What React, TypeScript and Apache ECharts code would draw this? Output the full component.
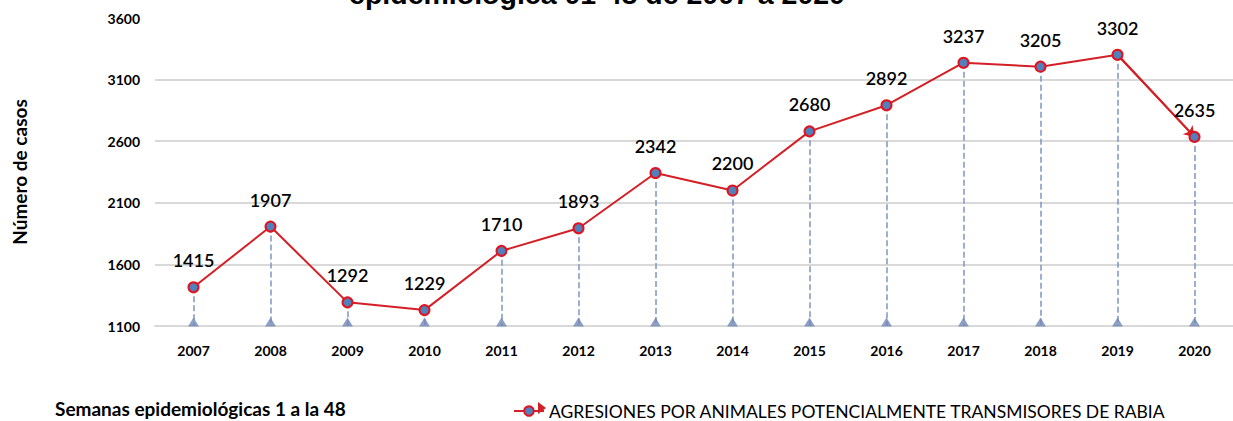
import React, { useEffect, useRef } from "react";
import * as echarts from "echarts";

const years = ["2007","2008","2009","2010","2011","2012","2013","2014","2015","2016","2017","2018","2019","2020"];
const cases = [1415, 1907, 1292, 1229, 1710, 1893, 2342, 2200, 2680, 2892, 3237, 3205, 3302, 2635];
const yTicks = [1100, 1600, 2100, 2600, 3100, 3600];
const seriesName = "AGRESIONES POR ANIMALES POTENCIALMENTE TRANSMISORES DE RABIA";
const titleText = "epidemiológica 01-48 de 2007 a 2020";
const footerText = "Semanas epidemiológicas 1 a la 48";
const yName = "Número de casos";

const FONT = "Lato, 'Open Sans', sans-serif";

export default function App() {
  const ref = useRef<HTMLDivElement>(null);
  useEffect(() => {
    document.body.style.margin = "0";
    const chart = echarts.init(ref.current!, null, { renderer: "svg" });
    const yMin = yTicks[0];
    const yMax = yTicks[yTicks.length - 1];
    const dropLines = cases.map((v, i) => [
      { coord: [i, v] },
      { coord: [i, yMin] },
    ]);
    chart.setOption({
      animation: false,
      backgroundColor: "#ffffff",
      grid: { left: 155, top: 18, height: 308, width: 1081 },
      xAxis: {
        type: "category",
        data: years,
        boundaryGap: true,
        axisLine: { show: true, lineStyle: { color: "#d9d9d9", width: 2 } },
        axisTick: { show: false },
        axisLabel: { color: "#000", fontWeight: "bold", fontSize: 14, fontFamily: FONT, margin: 17 },
      },
      yAxis: {
        type: "value",
        min: yMin,
        max: yMax,
        interval: 500,
        name: yName,
        nameLocation: "middle",
        nameRotate: 90,
        nameGap: 126,
        nameTextStyle: { color: "#000", fontWeight: "bold", fontSize: 19, fontFamily: FONT },
        axisLine: { show: false },
        axisTick: { show: false, customValues: yTicks },
        axisLabel: {
          color: "#000",
          fontWeight: "bold",
          fontSize: 14,
          fontFamily: FONT,
          margin: 15,
          customValues: yTicks,
          formatter: (v: number) => String(v),
        },
        splitLine: {
          show: true,
          lineStyle: { color: ["#d9d9d9", "#d9d9d9", "#d9d9d9", "#d9d9d9", "#d9d9d9", "rgba(0,0,0,0)"], width: 2 },
        },
      },
      legend: {
        left: 508,
        top: 397,
        itemWidth: 30,
        itemHeight: 12,
        itemGap: 10,
        data: [seriesName],
        textStyle: { color: "#000", fontSize: 17.5, fontFamily: FONT },
      },
      series: [
        {
          type: "scatter",
          data: years.map(() => yMin),
          symbol: "triangle",
          symbolSize: [11, 9],
          symbolOffset: [0, -4],
          itemStyle: { color: "#7088b4" },
          clip: false,
          silent: true,
          z: 1,
        },
        {
          name: seriesName,
          type: "line",
          data: cases,
          symbol: "circle",
          symbolSize: 10,
          itemStyle: { color: "#4f81bd", borderColor: "#e3121c", borderWidth: 2 },
          lineStyle: { color: "#d41f26", width: 2 },
          z: 3,
          label: {
            show: true,
            position: "top",
            distance: 12,
            color: "#000",
            fontSize: 18,
            fontWeight: 600,
            fontFamily: FONT,
          },
          markLine: {
            silent: true,
            symbol: ["none", "none"],
            label: { show: false },
            lineStyle: { color: "#7f96c0", type: "dashed", width: 1.5 },
            z: 1,
            data: [
              ...dropLines,
              [
                { coord: [12, cases[12]], symbol: "none", lineStyle: { color: "#d41f26", type: "solid", width: 2 } },
                { coord: [13, cases[13]], symbol: "arrow", symbolSize: 10, lineStyle: { color: "#d41f26", type: "solid", width: 2 } },
              ],
            ],
          },
        },
      ],
      graphic: [
        {
          type: "text",
          x: 597,
          y: 8,
          style: {
            text: titleText,
            fontSize: 28.5,
            fontWeight: "bold",
            fontFamily: "'Liberation Sans', Arial, sans-serif",
            fill: "#000",
            align: "center",
            verticalAlign: "bottom",
          },
        },
        {
          type: "text",
          left: 55,
          top: 399,
          style: { text: footerText, fontSize: 19, fontWeight: "bold", fontFamily: FONT, fill: "#000" },
        },
        {
          type: "polygon",
          shape: { points: [[538, 402], [546, 408], [538, 414]] },
          style: { fill: "#d41f26" },
        },
      ],
    });
    return () => chart.dispose();
  }, []);
  return <div ref={ref} style={{ width: 1233, height: 421 }} />;
}
